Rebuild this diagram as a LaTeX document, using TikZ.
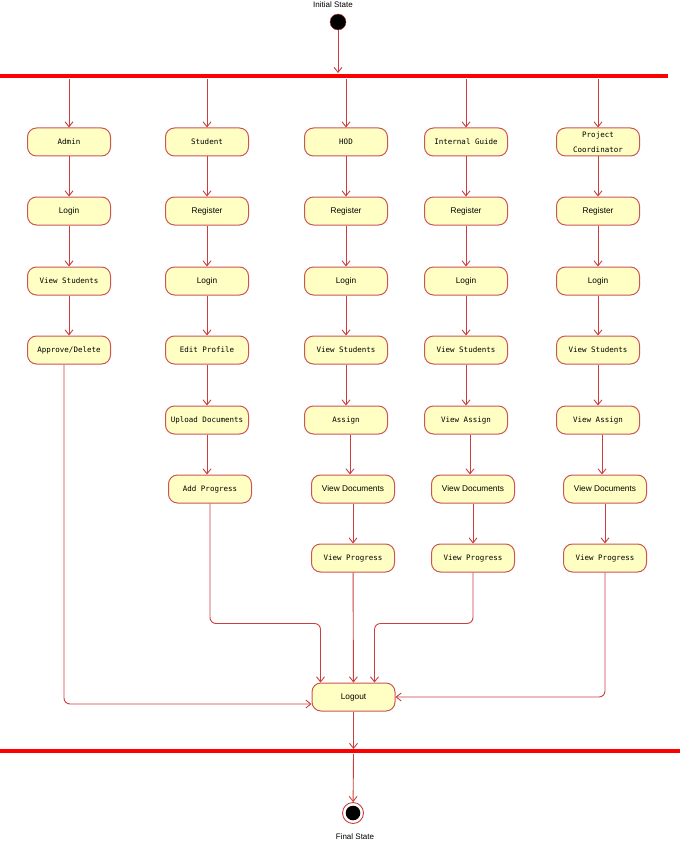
\documentclass[tikz,border=0pt]{standalone}
\usepackage{fontspec}
\setmainfont{Liberation Sans}
\newfontfamily\actmono{DejaVu Sans Mono}
\usetikzlibrary{arrows.meta}
\definecolor{boxfill}{RGB}{255,255,196}
\definecolor{boxline}{RGB}{204,84,84}
\definecolor{flowred}{RGB}{204,62,62}

\begin{document}
\begin{tikzpicture}[x=1pt,y=-1pt,>={Straight Barb[length=5pt,width=8pt]}]
\tikzset{act/.style={draw=boxline,fill=boxfill,rounded corners=9pt,minimum width=83pt,minimum height=28pt,inner sep=1pt,line width=1pt,align=center},
mono/.style={font=\actmono\fontsize{7.5}{9}\selectfont},
sans/.style={font=\fontsize{8.3}{10}\selectfont},
flow/.style={->,draw=flowred,line width=0.9pt,rounded corners=6pt},
bar/.style={draw=red,line width=4.5pt}}
\useasboundingbox (0,0) rectangle (680,853);
% start and end
\node[sans,font=\fontsize{8}{10}\selectfont] (initlbl) at (333,5) {Initial State};
\node[circle,fill=black,draw=flowred,minimum size=16pt,inner sep=0pt] (init) at (338,22) {};
\node[circle,draw=flowred,line width=0.9pt,minimum size=21pt,inner sep=0pt] (final) at (353,813) {};
\fill (final) circle (7.3pt);
\node[sans,font=\fontsize{8}{10}\selectfont] (finallbl) at (355,837) {Final State};
\coordinate (forkin) at (338,73);
\coordinate (fork) at (0,79);
\coordinate (joinin) at (353.5,749);
\coordinate (joinout) at (353.5,754);
% activities
\foreach \n/\x/\y/\s/\t in {admin/69/142/mono/Admin, aLogin/69/211/sans/Login, aView/69/281/mono/View Students, aAppr/69/350/mono/{Approve/Delete},
student/207/142/mono/Student, sReg/207/211/sans/Register, sLogin/207/281/sans/Login, sEdit/207/350/mono/Edit Profile, sUpl/207/420/mono/Upload Documents, sAdd/210/489/mono/Add Progress,
hod/346/142/mono/HOD, hReg/346/211/sans/Register, hLogin/346/281/sans/Login, hView/346/350/mono/View Students, hAssign/346/420/mono/Assign, hDoc/353/489/sans/View Documents, hProg/353/558/mono/View Progress,
guide/466/142/mono/Internal Guide, gReg/466/211/sans/Register, gLogin/466/281/sans/Login, gView/466/350/mono/View Students, gAssign/466/420/mono/View Assign, gDoc/473/489/sans/View Documents, gProg/473/558/mono/View Progress,
coord/598/142/mono/{Project\\[6pt]Coordinator}, cReg/598/211/sans/Register, cLogin/598/281/sans/Login, cView/598/350/mono/View Students, cAssign/598/420/mono/View Assign, cDoc/605/489/sans/View Documents, cProg/605/558/mono/View Progress,
logout/353.5/697/sans/Logout}
\node[act,\s] (\n) at (\x,\y) {\t};
% fork
\draw[flow] (init) -- (forkin);
\foreach \n in {admin,student,hod,guide,coord}
\draw[flow] (\n |- fork) -- (\n);
\draw[bar] (0,76) -- (668,76);
% chains
\foreach \a/\b in {admin/aLogin,aLogin/aView,aView/aAppr,student/sReg,sReg/sLogin,sLogin/sEdit,sEdit/sUpl,hod/hReg,hReg/hLogin,hLogin/hView,hView/hAssign,hDoc/hProg,guide/gReg,gReg/gLogin,gLogin/gView,gView/gAssign,gDoc/gProg,coord/cReg,cReg/cLogin,cLogin/cView,cView/cAssign,cDoc/cProg}
\draw[flow] (\a) -- (\b);
\draw[flow] (sUpl.south) -- (sUpl.south |- sAdd.north);
\draw[flow] ([xshift=4pt]hAssign.south) -- ([xshift=4pt]hAssign.south |- hDoc.north);
\draw[flow] ([xshift=4pt]gAssign.south) -- ([xshift=4pt]gAssign.south |- gDoc.north);
\draw[flow] ([xshift=4pt]cAssign.south) -- ([xshift=4pt]cAssign.south |- cDoc.north);
% join
\draw[flow] ([xshift=-5pt]aAppr.south) |- ([yshift=-7pt]logout.west);
\draw[flow] (sAdd.south) -- ++(0,120) -| ([xshift=-33pt]logout.north);
\draw[flow] (hProg) -- (logout);
\draw[flow] (gProg.south) -- ++(0,51) -| ([xshift=21pt]logout.north);
\draw[flow] (cProg.south) |- (logout.east);
\draw[flow] (logout) -- (joinin);
\draw[bar] (0,751) -- (680,751);
\draw[flow] (joinout) -- (final);
\end{tikzpicture}
\end{document}
